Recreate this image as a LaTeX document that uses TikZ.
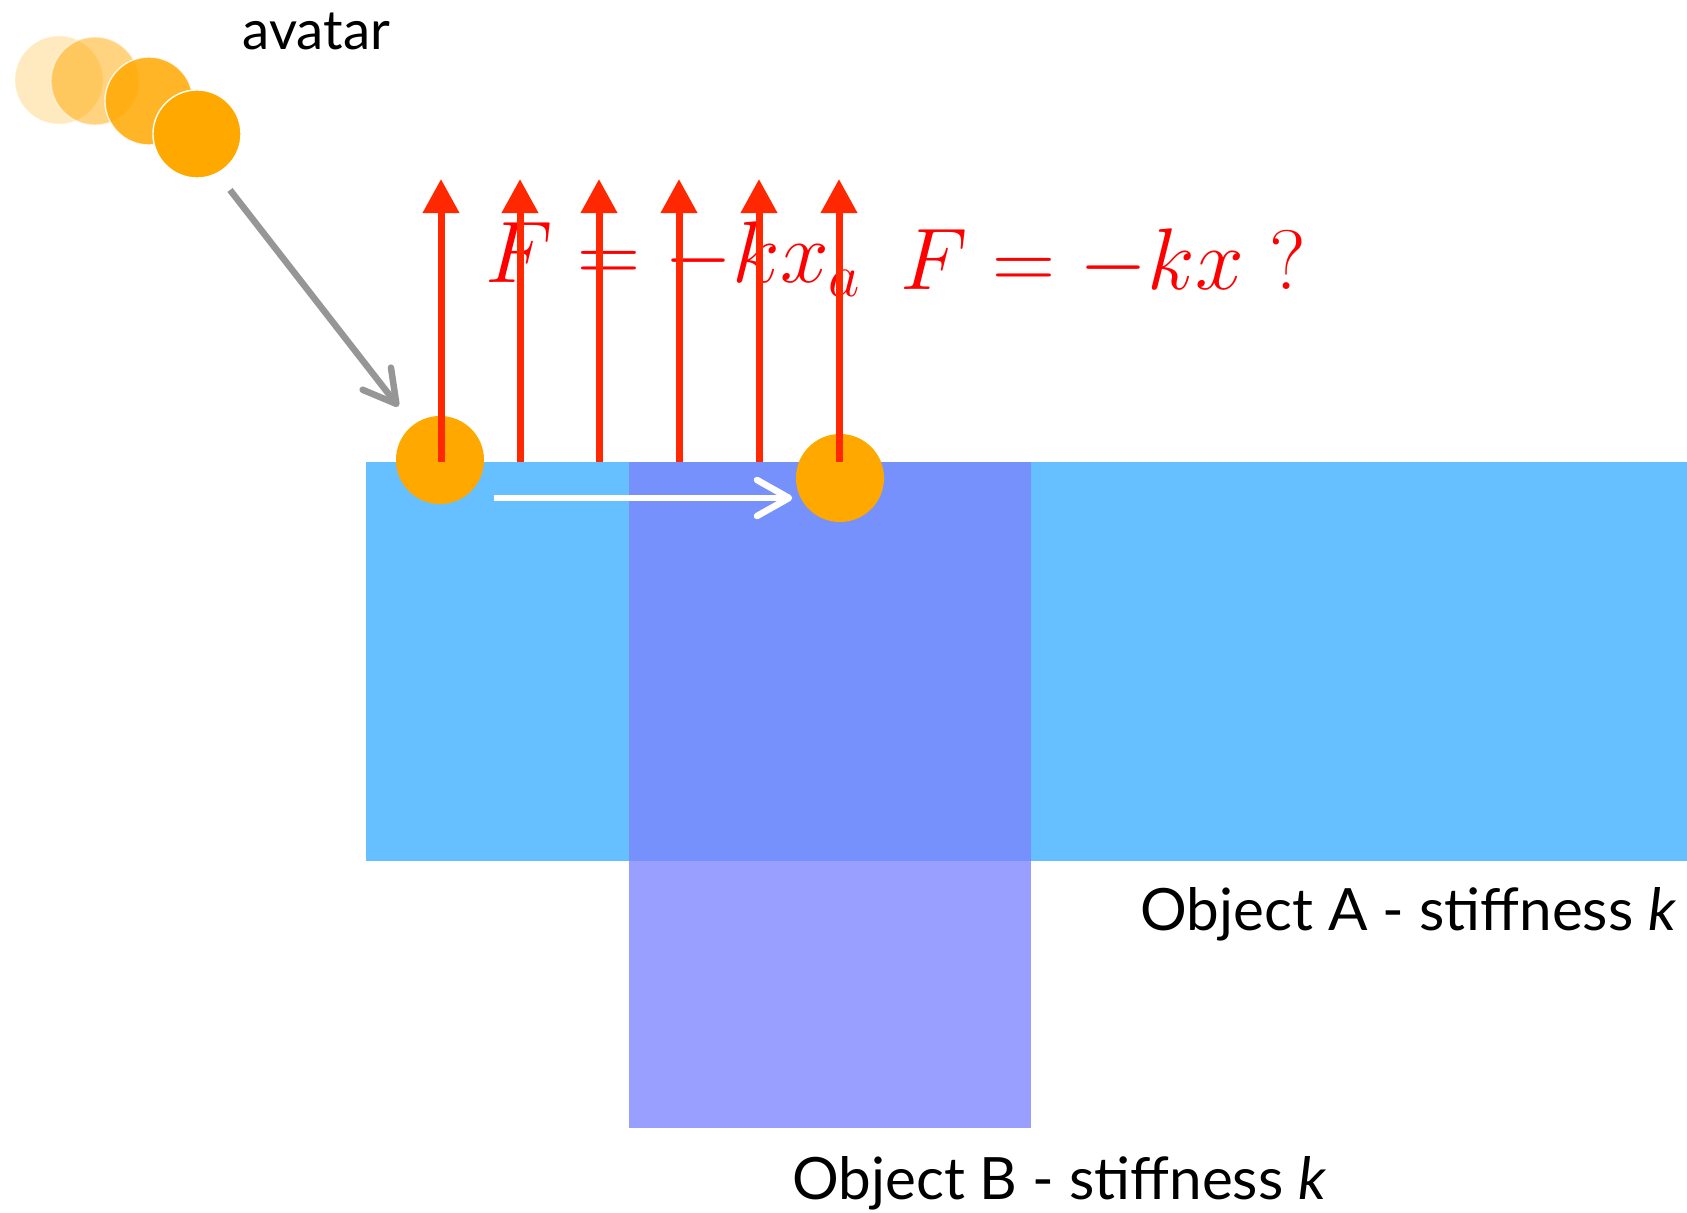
\documentclass[tikz,border=0pt]{standalone}
\usepackage{amsmath}
\usepackage[no-math]{fontspec}
\newfontfamily\gillfont{Lato}
\usepackage{tikz}
\usetikzlibrary{arrows.meta, calc}
\definecolor{objA}{RGB}{102,191,255}
\definecolor{objB}{RGB}{153,159,255}
\definecolor{objAB}{RGB}{118,144,252}
\definecolor{avatarOrange}{RGB}{255,168,0}
\definecolor{forceRed}{RGB}{255,40,0}
\definecolor{pathGray}{RGB}{150,150,150}

\begin{document}
\begin{tikzpicture}[x=0.01cm, y=-0.01cm]

        % Page = reference frame (pixel units, y pointing down)
        \useasboundingbox (0,0) rectangle (1687,1213);

        \def\ballSize{0.88cm}

        \tikzset{
          ball/.style={circle, fill=avatarOrange, minimum size=\ballSize, inner sep=0pt},
          ghost/.style={ball, draw=white, line width=0.4pt},
          force/.style={forceRed, line width=0.07cm, -{Triangle[length=0.34cm, width=0.35cm]}},
          motion/.style={line width=0.065cm, -{Straight Barb[length=0.32cm, width=0.36cm, round]}},
          formula/.style={red, inner sep=0pt, font=\fontsize{24}{28}\selectfont},
          labeltext/.style={inner sep=0pt, font=\gillfont\fontsize{16.6}{20}\selectfont}
        }

        % 1. Define the two objects (corners)
        \coordinate (Atl) at (366,462);   % Object A, top left
        \coordinate (Abr) at (1687,861);  % Object A, bottom right
        \coordinate (Btl) at (629,462);   % Object B, top left
        \coordinate (Bbr) at (1031,1128); % Object B, bottom right

        % 2. Fill the objects and their overlap
        \fill[objA] (Atl) rectangle (Abr);
        \fill[objB] (Btl) rectangle (Bbr);
        \fill[objAB] (Btl) rectangle (Bbr |- Abr);

        % 3. Avatar trail (fading copies)
        \node[ghost, opacity=0.25] (ghost1) at (59,80) {};
        \node[ghost, opacity=0.5] (ghost2) at (95,81) {};
        \node[ghost, opacity=0.85] (ghost3) at (149,101) {};
        \node[ghost] (avatar) at (197,134) {};

        % 4. Avatar on the surface: first contact and after sliding
        \node[ball] (contactA) at (440,460) {};
        \node[ball] (contactB) at (840,478) {};

        % 5. Formulas
        \node[formula, anchor=base west] (forceA) at (485,283) {$F = -kx_a$};
        \node[formula, anchor=base west] (forceB) at (900,290) {$F = -kx$ ?};

        % 6. Reaction forces along the surface
        \foreach \i/\xf in {1/441, 2/520, 3/599, 4/679, 5/759, 6/839} {
            \coordinate (base\i) at (\xf,462);
            \coordinate (tip\i) at (\xf,179);
            \draw[force] (base\i) -- (tip\i);
        }

        % 7. Avatar motion: approach, then slide
        \coordinate (dropStart) at (230,190);
        \draw[motion, pathGray, shorten >=0.23cm] (dropStart) -- (contactA);

        \coordinate (slideStart) at (494,498);
        \draw[motion, white, shorten >=0.03cm] (slideStart) -- (slideStart -| contactB.west);

        % 8. Labels
        \node[labeltext, font=\gillfont\fontsize{15.5}{18}\selectfont, anchor=base west] (avatarLabel) at (242,50) {avatar};
        \node[labeltext, anchor=base east] (labelA) at (1677,931) {Object A - stiffness \textit{k}};
        \node[labeltext, anchor=base east] (labelB) at (1327,1200) {Object B - stiffness \textit{k}};

\end{tikzpicture}
\end{document}
